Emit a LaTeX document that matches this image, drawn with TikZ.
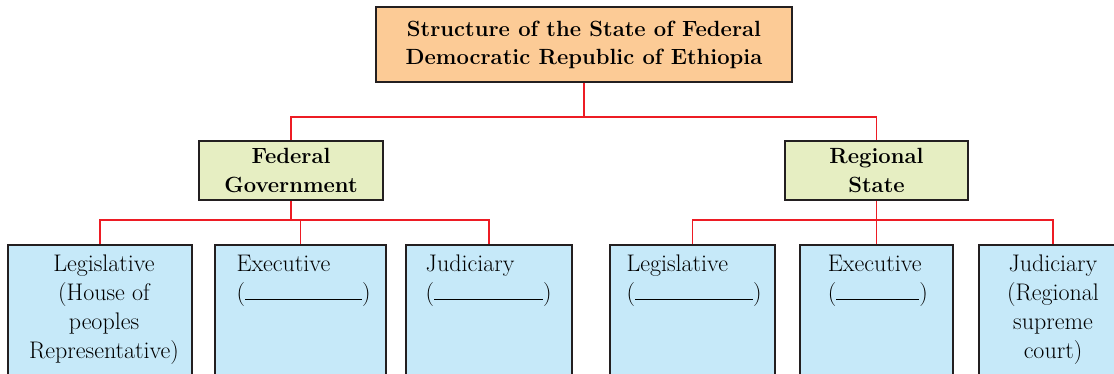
\documentclass[tikz,border=0pt]{standalone}
\usetikzlibrary{positioning}
\definecolor{titlefill}{HTML}{FCCB96}
\definecolor{govfill}{HTML}{E6EEC2}
\definecolor{leaffill}{HTML}{C6E9F9}
\definecolor{linkred}{HTML}{ED1C24}
\definecolor{boxline}{HTML}{231F20}

\begin{document}
\begin{tikzpicture}[x=1pt,y=-1pt,
    box/.style={draw=boxline,line width=1.8pt,inner sep=0pt},
    titlebox/.style={box,fill=titlefill,align=center,minimum height=75pt,
      font=\fontsize{22}{28}\selectfont\bfseries},
    govbox/.style={box,fill=govfill,align=center,minimum height=59pt,
      font=\fontsize{22}{28.5}\selectfont\bfseries},
    leaf/.style={box,fill=leaffill,anchor=north,minimum height=150pt},
    leaftext/.style={inner sep=0pt,anchor=north,font=\fontsize{24}{29}\selectfont},
    link/.style={linkred,line width=1.7pt}]
  \useasboundingbox (0,0) rectangle (1114,373);
  \clip (0,0) rectangle (1114,373);

  % Top and second level
  \node[titlebox,minimum width=416pt] (title) at (584,44.5)
    {Structure of the State of Federal\\Democratic Republic of Ethiopia};
  \node[govbox,minimum width=184pt] (fed) at (291,170.5) {Federal\\Government};
  \node[govbox,minimum width=183pt] (reg) at (876.5,170.5) {Regional\\State};

  % Leaf boxes
  \node[leaf,minimum width=184pt] (fleg) at (100,244) {};
  \node[leaf,minimum width=171pt] (fexe) at (300.5,244) {};
  \node[leaf,minimum width=166pt] (fjud) at (488.7,244) {};
  \node[leaf,minimum width=165pt] (rleg) at (692.5,244) {};
  \node[leaf,minimum width=153pt] (rexe) at (876.4,244) {};
  \node[leaf,minimum width=148pt] (rjud) at (1053,244) {};

  % Leaf texts
  \node[leaftext,align=center] (flegt) at ([xshift=4pt,yshift=-10.5pt]fleg.north)
    {Legislative\\(House of\\peoples\\Representative)};
  \node[leaftext,align=left] (fexet) at ([xshift=3pt,yshift=-10.5pt]fexe.north)
    {Executive\\(\rule{117pt}{1.3pt})};
  \node[leaftext,align=left] (fjudt) at ([yshift=-10.5pt]fjud.north)
    {Judiciary\\(\rule{109pt}{1.3pt})};
  \node[leaftext,align=left] (rlegt) at ([xshift=1.5pt,yshift=-10.5pt]rleg.north)
    {Legislative\\(\rule{118pt}{1.3pt})};
  \node[leaftext,align=left] (rexet) at ([xshift=1.5pt,yshift=-10.5pt]rexe.north)
    {Executive\\(\rule{83pt}{1.3pt})};
  \node[leaftext,align=center] (rjudt) at ([yshift=-10.5pt]rjud.north)
    {Judiciary\\(Regional\\supreme\\court)};

  % Connectors
  \coordinate (topbus) at (584,117);
  \coordinate (fedbus) at (291,220);
  \coordinate (regbus) at (876.5,220);
  \draw[link] (title.south) -- (topbus);
  \draw[link] (fed.north) |- (topbus) -| (reg.north);
  \draw[link] (fed.south) -- (fedbus);
  \draw[link] (fleg.north) |- (fedbus) -| (fjud.north);
  \draw[link] (fexe.north) -- (fexe.north |- fedbus);
  \draw[link] (reg.south) -- (regbus);
  \draw[link] (rleg.north) |- (regbus) -| (rjud.north);
  \draw[link] (rexe.north) -- (rexe.north |- regbus);
\end{tikzpicture}
\end{document}
